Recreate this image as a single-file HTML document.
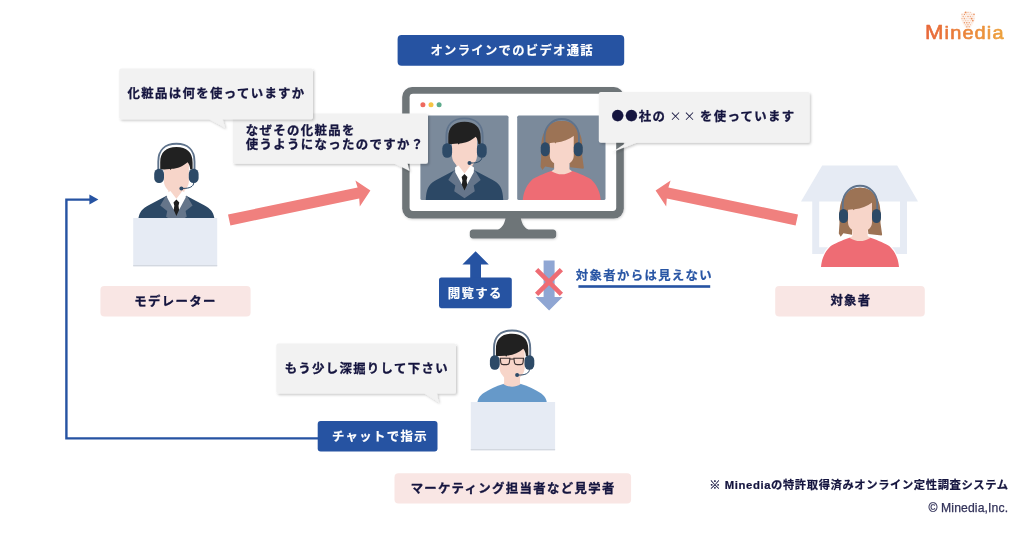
<!DOCTYPE html>
<html lang="ja">
<head>
<meta charset="utf-8">
<title>Minedia オンライン定性調査システム</title>
<style>
  html, body { margin: 0; padding: 0; background: #ffffff; }
  body { width: 1024px; height: 538px; overflow: hidden; }
  svg { display: block; will-change: transform; }
  text { font-family: "Liberation Sans", "Noto Sans CJK JP", sans-serif; font-weight: 700; font-size: 12.4px; letter-spacing: 1.35px; fill: #15153f; stroke: #15153f; stroke-width: 0.3px; stroke-linejoin: round; }
  .w { fill: #ffffff; stroke: #ffffff; stroke-width: 0.18px; }
  .b { fill: #2855a4; stroke: #2855a4; stroke-width: 0.2px; }
</style>
</head>
<body>
<svg width="1024" height="538" viewBox="0 0 1024 538">
  <defs>
    <filter id="sh" x="-10%" y="-20%" width="120%" height="150%">
      <feDropShadow dx="1.3" dy="1.5" stdDeviation="1.2" flood-color="#000000" flood-opacity="0.22"/>
    </filter>
    <filter id="sh2" x="-10%" y="-10%" width="120%" height="130%">
      <feDropShadow dx="0.6" dy="1" stdDeviation="1" flood-color="#000000" flood-opacity="0.18"/>
    </filter>
    <linearGradient id="lg" x1="0" y1="0" x2="1" y2="0">
      <stop offset="0" stop-color="#e8673a"/>
      <stop offset="1" stop-color="#eda23c"/>
    </linearGradient>
    <clipPath id="cl"><rect x="420.4" y="115.6" width="88.1" height="84.5" rx="1.6"/></clipPath>
    <clipPath id="cr"><rect x="517.2" y="115.6" width="88.3" height="84.5" rx="1.6"/></clipPath>
    <clipPath id="cm"><rect x="130" y="130" width="100" height="88"/></clipPath>
  </defs>
  <rect x="0" y="0" width="1024" height="538" fill="#ffffff"/>

  <!-- feedback line (chat instruction to moderator) -->
  <path d="M318,438.4 L66.4,438.4 L66.4,199.6 L90,199.6" fill="none" stroke="#2653a2" stroke-width="2.4"/>
  <path d="M89.4,194.6 L98.4,199.6 L89.4,204.6 Z" fill="#2653a2"/>

  <!-- title pill -->
  <rect x="397.6" y="35" width="226.6" height="30.8" rx="4" fill="#2653a2"/>
  <text class="w" x="430.5" y="55.1" style="font-size:12.3px;letter-spacing:1.32px">オンラインでのビデオ通話</text>

  <!-- monitor -->
  <g filter="url(#sh2)">
    <path d="M505.8,216 L520.6,216 C521.2,222.6 523.6,227.4 528.4,229.6 L553,229.6 C555,229.6 556.2,231 556.2,232.6 L556.2,235.6 C556.2,237.2 555,238.6 553,238.6 L473,238.6 C471,238.6 469.8,237.2 469.8,235.6 L469.8,232.6 C469.8,231 471,229.6 473,229.6 L498,229.6 C502.8,227.4 505.2,222.6 505.8,216 Z" fill="#6e7478"/>
    <rect x="402.2" y="87" width="221.6" height="131.6" rx="10" fill="#6e7478"/>
  </g>
  <rect x="409.6" y="93.8" width="206.6" height="117.2" rx="3.4" fill="#ffffff"/>
  <circle cx="422.9" cy="104.8" r="2.5" fill="#ee6a5f"/>
  <circle cx="431" cy="104.8" r="2.5" fill="#f6c444"/>
  <circle cx="439.1" cy="104.8" r="2.5" fill="#5dab8c"/>
  <rect x="420.4" y="115.6" width="88.1" height="84.5" rx="1.6" fill="#7b8a9b"/>
  <rect x="517.2" y="115.6" width="88.3" height="84.5" rx="1.6" fill="#7b8a9b"/>
  <g clip-path="url(#cl)">
  <g transform="translate(288.1,-25.4)">
    <path d="M137.6,227 C137.8,219 139,213.8 141.4,210.8 C143.2,208.4 145.6,206.8 148.6,205.2 L166.1,196 L186.7,196 L204.2,205.2 C207.2,206.8 209.6,208.4 211.4,210.8 C213.8,213.8 215,219 215.2,227 Z" fill="#2c4865"/>
    <path d="M166.1,195.6 L160.2,205.4 L167.2,210.9 L166.1,216.7 L176.4,223.6 L186.7,216.7 L185.6,210.9 L192.6,205.4 L186.7,195.6 L176.4,204 Z" fill="#65758a"/>
    <path d="M163.9,160 L188.9,160 L188.9,181.6 C188.7,184.6 187.8,186.6 186.4,188.2 L184.3,190.8 L184.3,196.6 L185.1,197.25 C182.3,199.1 179.3,200 176.4,200 C173.4,200 170.4,199.1 167.6,197.25 L168.4,196.6 L168.4,190.8 L166.4,188.2 C165,186.6 164.1,184.6 163.9,181.6 Z" fill="#f7d5c9"/>
    <path d="M166.9,193 L170.4,191 L176.4,198.8 L182.4,191 L185.9,193 L185.7,197.6 L179.4,209.2 L176.4,211.4 L173.4,209.2 L167.1,197.6 Z" fill="#ffffff"/>
    <path d="M176.4,199.4 L179.3,202.5 L178.5,205.8 L179.1,210.1 L176.4,215.9 L173.7,210.1 L174.3,205.8 L173.5,202.5 Z" fill="#1f1f1f"/>
    <path d="M160.2,169.4 L160.2,162.4 C160.2,152.4 166,147.1 176.4,147.1 C186.8,147.1 192.6,152.4 192.6,162.4 L192.6,169.4 L190.2,169.4 C190,166.4 189.2,164.2 187.6,162.2 C183.4,166 177.4,168.6 171.6,168.8 L170.4,170 L169.8,169 L163.9,169.4 Z" fill="#212121"/>
    <path d="M158.3,171 L158.3,161.4 C158.3,150 165,143.8 176.4,143.8 C187.8,143.8 194.5,150 194.5,161.4 L194.5,171" fill="none" stroke="#5f738c" stroke-width="1.9"/>
    <rect x="154.2" y="168.7" width="9.8" height="14.4" rx="4.6" ry="5.2" fill="#2d4a67"/>
    <rect x="188.8" y="168.7" width="9.8" height="14.4" rx="4.6" ry="5.2" fill="#2d4a67"/>
    <path d="M193.8,182.6 C193.6,186.6 189.6,188.6 182.6,188.4" fill="none" stroke="#2d4a67" stroke-width="1"/>
    <circle cx="181.4" cy="188.4" r="2" fill="#2d4a67"/>
  </g>
  </g>
  <g clip-path="url(#cr)">
  <g transform="translate(-298.25,-66.75)">
    <path d="M839.5,223 C839.3,214 839.5,208 840.6,204 C841.6,200.4 843,198 844.6,196 C847.6,190.6 852.6,187.7 860,187.7 C867.4,187.7 872.4,190.6 875.4,196 C877,198 878.4,200.4 879.4,204 C880.5,208 880.7,214 880.5,223 L882.1,234.4 L881.6,235.6 L868.4,234 L867.7,228 L852.4,228 L852,234.8 L843.4,233.2 L840.7,236.8 L838.8,233.6 Z" fill="#9c7355"/>
    <path d="M821,267 C821.4,263 822,260.4 822.9,258 C824.4,254 826.4,250 830.5,246.2 C834,244 842,240.4 849.4,237.8 L870.6,237.8 C878,240.4 886,244 889.5,246.2 C893.6,250 895.6,254 897.1,258 C898,260.4 898.6,263 899,267 Z" fill="#ee6c74"/>
    <path d="M848,202 L872,202 L872,222.7 C872,226 870,228.4 867.7,229.9 L867.7,236 L870.3,237.9 C867,240 863.5,241 860,241 C856.5,241 853,240 849.7,237.9 L852.4,236 L852.4,229.9 C850,228.4 848,226 848,222.7 Z" fill="#f7d5c9"/>
    <path d="M845,210 L845,203.4 C845,193.6 850.2,187.7 860,187.7 C869.8,187.7 875,193.6 875,203.4 L875,210 L873.6,210 C873.6,207 873.2,204.6 872.2,202.6 C867.4,206.4 861,208.8 854.6,209.2 L853.6,210.2 L852.8,209.2 L846.4,210 Z" fill="#9c7355"/>
    <path d="M842.8,211 L842.8,203.2 A17.2,17.5 0 0 1 877.2,203.2 L877.2,211" fill="none" stroke="#5f738c" stroke-width="1.9"/>
    <rect x="839" y="208.9" width="9" height="14.2" rx="4.4" ry="5.2" fill="#2d4a67"/>
    <rect x="872" y="208.9" width="9" height="14.2" rx="4.4" ry="5.2" fill="#2d4a67"/>
  </g>
  </g>

  <!-- moderator -->
  <g clip-path="url(#cm)">
  <g transform="translate(0,0)">
    <path d="M137.6,227 C137.8,219 139,213.8 141.4,210.8 C143.2,208.4 145.6,206.8 148.6,205.2 L166.1,196 L186.7,196 L204.2,205.2 C207.2,206.8 209.6,208.4 211.4,210.8 C213.8,213.8 215,219 215.2,227 Z" fill="#2c4865"/>
    <path d="M166.1,195.6 L160.2,205.4 L167.2,210.9 L166.1,216.7 L176.4,223.6 L186.7,216.7 L185.6,210.9 L192.6,205.4 L186.7,195.6 L176.4,204 Z" fill="#65758a"/>
    <path d="M163.9,160 L188.9,160 L188.9,181.6 C188.7,184.6 187.8,186.6 186.4,188.2 L184.3,190.8 L184.3,196.6 L185.1,197.25 C182.3,199.1 179.3,200 176.4,200 C173.4,200 170.4,199.1 167.6,197.25 L168.4,196.6 L168.4,190.8 L166.4,188.2 C165,186.6 164.1,184.6 163.9,181.6 Z" fill="#f7d5c9"/>
    <path d="M166.9,193 L170.4,191 L176.4,198.8 L182.4,191 L185.9,193 L185.7,197.6 L179.4,209.2 L176.4,211.4 L173.4,209.2 L167.1,197.6 Z" fill="#ffffff"/>
    <path d="M176.4,199.4 L179.3,202.5 L178.5,205.8 L179.1,210.1 L176.4,215.9 L173.7,210.1 L174.3,205.8 L173.5,202.5 Z" fill="#1f1f1f"/>
    <path d="M160.2,169.4 L160.2,162.4 C160.2,152.4 166,147.1 176.4,147.1 C186.8,147.1 192.6,152.4 192.6,162.4 L192.6,169.4 L190.2,169.4 C190,166.4 189.2,164.2 187.6,162.2 C183.4,166 177.4,168.6 171.6,168.8 L170.4,170 L169.8,169 L163.9,169.4 Z" fill="#212121"/>
    <path d="M158.3,171 L158.3,161.4 C158.3,150 165,143.8 176.4,143.8 C187.8,143.8 194.5,150 194.5,161.4 L194.5,171" fill="none" stroke="#5f738c" stroke-width="1.9"/>
    <rect x="154.2" y="168.7" width="9.8" height="14.4" rx="4.6" ry="5.2" fill="#2d4a67"/>
    <rect x="188.8" y="168.7" width="9.8" height="14.4" rx="4.6" ry="5.2" fill="#2d4a67"/>
    <path d="M193.8,182.6 C193.6,186.6 189.6,188.6 182.6,188.4" fill="none" stroke="#2d4a67" stroke-width="1"/>
    <circle cx="181.4" cy="188.4" r="2" fill="#2d4a67"/>
  </g>
  </g>
  <rect x="133.2" y="218" width="84" height="48" fill="#e6ebf4"/>
  <rect x="133.2" y="265" width="84" height="1.4" fill="#d3d8e0"/>

  <!-- respondent at home -->
  <path d="M822.2,165.6 L897.2,165.6 L918,201.6 L907,201.6 L907,254 L812.2,254 L812.2,201.6 L801,201.6 Z M819.2,201.6 L819.2,247.2 L900,247.2 L900,201.6 Z" fill="#e6ebf4" fill-rule="evenodd"/>
  
  <g transform="translate(0,0)">
    <path d="M839.5,223 C839.3,214 839.5,208 840.6,204 C841.6,200.4 843,198 844.6,196 C847.6,190.6 852.6,187.7 860,187.7 C867.4,187.7 872.4,190.6 875.4,196 C877,198 878.4,200.4 879.4,204 C880.5,208 880.7,214 880.5,223 L882.1,234.4 L881.6,235.6 L868.4,234 L867.7,228 L852.4,228 L852,234.8 L843.4,233.2 L840.7,236.8 L838.8,233.6 Z" fill="#9c7355"/>
    <path d="M821,267 C821.4,263 822,260.4 822.9,258 C824.4,254 826.4,250 830.5,246.2 C834,244 842,240.4 849.4,237.8 L870.6,237.8 C878,240.4 886,244 889.5,246.2 C893.6,250 895.6,254 897.1,258 C898,260.4 898.6,263 899,267 Z" fill="#ee6c74" stroke="#ffffff" stroke-width="2.6" paint-order="stroke"/>
    <path d="M848,202 L872,202 L872,222.7 C872,226 870,228.4 867.7,229.9 L867.7,236 L870.3,237.9 C867,240 863.5,241 860,241 C856.5,241 853,240 849.7,237.9 L852.4,236 L852.4,229.9 C850,228.4 848,226 848,222.7 Z" fill="#f7d5c9"/>
    <path d="M845,210 L845,203.4 C845,193.6 850.2,187.7 860,187.7 C869.8,187.7 875,193.6 875,203.4 L875,210 L873.6,210 C873.6,207 873.2,204.6 872.2,202.6 C867.4,206.4 861,208.8 854.6,209.2 L853.6,210.2 L852.8,209.2 L846.4,210 Z" fill="#9c7355"/>
    <path d="M842.8,211 L842.8,203.2 A17.2,17.5 0 0 1 877.2,203.2 L877.2,211" fill="none" stroke="#5f738c" stroke-width="1.9"/>
    <rect x="839" y="208.9" width="9" height="14.2" rx="4.4" ry="5.2" fill="#2d4a67"/>
    <rect x="872" y="208.9" width="9" height="14.2" rx="4.4" ry="5.2" fill="#2d4a67"/>
  </g>

  <!-- observer -->
  
  <g transform="translate(335.7,186.65)">
    <path d="M141.6,216.4 C142.1,211.9 143.9,209.2 148,206.3 C153.3,202.8 160.3,199.4 167.55,197.25 L185.25,197.25 C192.5,199.4 199.5,202.8 204.8,206.3 C208.9,209.2 210.7,211.9 211.2,216.4 Z" fill="#6699c9"/>
    <path d="M163.9,160 L188.9,160 L188.9,181.6 C188.7,184.6 187.8,186.6 186.4,188.2 L184.3,190.8 L184.3,196.6 L185.1,197.25 C182.3,199.1 179.3,200 176.4,200 C173.4,200 170.4,199.1 167.6,197.25 L168.4,196.6 L168.4,190.8 L166.4,188.2 C165,186.6 164.1,184.6 163.9,181.6 Z" fill="#f7d5c9"/>
    <path d="M160.2,169.4 L160.2,162.4 C160.2,152.4 166,147.1 176.4,147.1 C186.8,147.1 192.6,152.4 192.6,162.4 L192.6,169.4 L190.2,169.4 C190,166.4 189.2,164.2 187.6,162.2 C183.4,166 177.4,168.6 171.6,168.8 L170.4,170 L169.8,169 L163.9,169.4 Z" fill="#212121"/>
    <path d="M158.3,171 L158.3,161.4 C158.3,150 165,143.8 176.4,143.8 C187.8,143.8 194.5,150 194.5,161.4 L194.5,171" fill="none" stroke="#5f738c" stroke-width="1.9"/>
    <rect x="154.2" y="168.7" width="9.8" height="14.4" rx="4.6" ry="5.2" fill="#2d4a67"/>
    <rect x="188.8" y="168.7" width="9.8" height="14.4" rx="4.6" ry="5.2" fill="#2d4a67"/>
    <path d="M193.8,182.6 C193.6,186.6 189.6,188.6 182.6,188.4" fill="none" stroke="#2d4a67" stroke-width="1"/>
    <circle cx="181.4" cy="188.4" r="2" fill="#2d4a67"/>
    <g fill="none" stroke="#3a3030" stroke-width="1.1">
      <path d="M164.6,171.6 L174.2,171.6 L173.6,176.2 C173.2,177.6 172.4,178 171,178 L167.6,178 C166.2,178 165.4,177.6 165.1,176.2 Z"/>
      <path d="M178.2,171.6 L187.8,171.6 L187.3,176.2 C187,177.6 186.2,178 184.8,178 L181.4,178 C180,178 179.2,177.6 178.8,176.2 Z"/>
      <path d="M174.2,172.4 L178.2,172.4"/>
    </g>
  </g>
  <rect x="470.8" y="402" width="84.3" height="48" fill="#e6ebf4"/>
  <rect x="470.8" y="449" width="84.3" height="1.4" fill="#d3d8e0"/>

  <!-- red arrows -->
  <path d="M228,214.5 L357.6,187.4 L355.4,180.4 L370.4,190.6 L359.8,206.4 L359.2,198.4 L230.4,225.4 Z" fill="#f0807e"/>
  <path d="M798,214.5 L668.4,187.4 L670.6,180.4 L655.6,190.6 L666.2,206.4 L666.8,198.4 L795.6,225.4 Z" fill="#f0807e"/>

  <!-- view arrow + label -->
  <path d="M475.6,251.2 L488.8,264.6 L481,264.6 L481,279 L470.2,279 L470.2,264.6 L462.4,264.6 Z" fill="#2653a2"/>
  <rect x="439" y="277.4" width="72.8" height="30.8" rx="2.4" fill="#2653a2"/>
  <text class="w" x="475.2" y="298.2" text-anchor="middle">閲覧する</text>

  <!-- blocked arrow -->
  <path d="M543.6,260.4 L554.6,260.4 L554.6,297 L562.6,297 L549.1,310.4 L535.6,297 L543.6,297 Z" fill="#8fa6d3"/>
  <path d="M536.6,269.6 L561.4,294.4 M561.4,269.6 L536.6,294.4" stroke="#ee6c74" stroke-width="4.6" fill="none"/>
  <text class="b" x="644.4" y="279.6" text-anchor="middle">対象者からは見えない</text>
  <rect x="578.4" y="285.2" width="131.8" height="2.6" fill="#2653a2"/>

  <!-- speech bubbles -->
  
  <g filter="url(#sh)">
    <rect x="232.8" y="113.6" width="195.2" height="50.2" rx="2" fill="#f2f2f2"/>
    <path d="M393.6,163 L409.6,171 L407.4,163 Z" fill="#f2f2f2"/>
  </g>
  <text x="245.8" y="134.5">なぜその化粧品を</text>
  <text x="245.8" y="148.8">使うようになったのですか？</text>
  
  <g filter="url(#sh)">
    <rect x="119.2" y="68.4" width="193.8" height="50.8" rx="2" fill="#f2f2f2"/>
    <path d="M208,118.6 L225,127.8 L222.4,118.6 Z" fill="#f2f2f2"/>
  </g>
  <text x="127.6" y="97.9">化粧品は何を使っていますか</text>
  
  <g filter="url(#sh)">
    <rect x="598.8" y="92" width="210.8" height="50.8" rx="2" fill="#f2f2f2"/>
    <path d="M638,142 L611.5,152.6 L627.5,142 Z" fill="#f2f2f2"/>
  </g>
  <text x="611.4" y="120.6" style="font-family:'Noto Sans CJK JP','Liberation Sans',sans-serif">●●社の<tspan x="669.6" style="font-weight:400;stroke:none;font-size:12px;letter-spacing:1.9px">××</tspan><tspan x="700">を使っています</tspan></text>
  
  <g filter="url(#sh)">
    <rect x="276.4" y="343.4" width="179.6" height="50.2" rx="2" fill="#f2f2f2"/>
    <path d="M424,393 L438.6,402.2 L436.8,393 Z" fill="#f2f2f2"/>
  </g>
  <text x="284.8" y="372.6">もう少し深掘りして下さい</text>

  <!-- chat button -->
  <rect x="317.7" y="421.1" width="119.8" height="30.5" rx="3" fill="#2653a2"/>
  <text class="w" x="380" y="441" text-anchor="middle">チャットで指示</text>

  <!-- role labels -->
  <rect x="100.4" y="286" width="150.2" height="30.4" rx="4" fill="#f9e6e4"/>
  <text x="175.5" y="305.6" text-anchor="middle">モデレーター</text>
  <rect x="775.2" y="286" width="149.6" height="30.4" rx="4" fill="#f9e6e4"/>
  <text x="851" y="305.4" text-anchor="middle">対象者</text>
  <rect x="394.5" y="473.2" width="236.6" height="30.4" rx="4" fill="#f9e6e4"/>
  <text x="513.2" y="492.8" text-anchor="middle">マーケティング担当者など見学者</text>

  <!-- footnotes -->
  <text x="1008.7" y="489.1" text-anchor="end" style="font-size:11.3px;letter-spacing:0.6px;stroke-width:0.22px">※ Minediaの特許取得済みオンライン定性調査システム</text>
  <text x="1008.2" y="511.9" text-anchor="end" style="font-size:12.2px;letter-spacing:0.12px;font-weight:400;fill:#33335a;stroke:#33335a;stroke-width:0.25px">© Minedia,Inc.</text>

  <!-- logo -->
  <g>
    <path d="M968,11.4 C972.4,11.4 975.3,14 975.3,17.2 C975.3,21 972.6,24.6 970.5,27.8 L965.5,27.8 C963.4,24.6 960.7,21 960.7,17.2 C960.7,14 963.6,11.4 968,11.4 Z" fill="#f3b48e" opacity="0.16"/>
    <circle cx="965.6" cy="12.4" r="0.95" fill="#e57a3e" opacity="0.85"/><circle cx="968.0" cy="12.4" r="0.7" fill="#e57a3e" opacity="0.45"/><circle cx="970.4" cy="12.4" r="0.7" fill="#e57a3e" opacity="0.3"/><circle cx="962.0" cy="14.4" r="0.8" fill="#ee9a6a" opacity="0.45"/>
    <circle cx="964.4" cy="14.4" r="0.6" fill="#e57a3e" opacity="0.85"/><circle cx="966.8" cy="14.4" r="0.7" fill="#ee9a6a" opacity="0.3"/><circle cx="969.2" cy="14.4" r="0.6" fill="#e9824a" opacity="0.3"/><circle cx="971.6" cy="14.4" r="0.7" fill="#e57a3e" opacity="0.3"/>
    <circle cx="974.0" cy="14.4" r="0.8" fill="#e9824a" opacity="0.85"/><circle cx="963.2" cy="16.5" r="0.7" fill="#e57a3e" opacity="0.6"/><circle cx="965.6" cy="16.5" r="0.6" fill="#e57a3e" opacity="0.3"/><circle cx="968.0" cy="16.5" r="0.8" fill="#ee9a6a" opacity="0.85"/>
    <circle cx="970.4" cy="16.5" r="0.8" fill="#e9824a" opacity="0.6"/><circle cx="972.8" cy="16.5" r="0.8" fill="#ee9a6a" opacity="0.3"/><circle cx="962.0" cy="18.6" r="0.6" fill="#ee9a6a" opacity="0.85"/><circle cx="964.4" cy="18.6" r="0.8" fill="#ee9a6a" opacity="0.85"/>
    <circle cx="966.8" cy="18.6" r="0.6" fill="#e9824a" opacity="0.3"/><circle cx="969.2" cy="18.6" r="0.7" fill="#e57a3e" opacity="0.3"/><circle cx="971.6" cy="18.6" r="0.95" fill="#e57a3e" opacity="0.85"/><circle cx="974.0" cy="18.6" r="0.6" fill="#f2b08a" opacity="0.45"/>
    <circle cx="963.2" cy="20.6" r="0.8" fill="#f2b08a" opacity="0.3"/><circle cx="965.6" cy="20.6" r="0.8" fill="#e57a3e" opacity="0.3"/><circle cx="968.0" cy="20.6" r="0.6" fill="#e9824a" opacity="0.45"/><circle cx="970.4" cy="20.6" r="0.6" fill="#ee9a6a" opacity="0.3"/>
    <circle cx="972.8" cy="20.6" r="0.95" fill="#e9824a" opacity="0.85"/><circle cx="964.4" cy="22.7" r="0.7" fill="#e9824a" opacity="0.85"/><circle cx="966.8" cy="22.7" r="0.7" fill="#e57a3e" opacity="0.85"/><circle cx="969.2" cy="22.7" r="0.6" fill="#e57a3e" opacity="0.85"/>
    <circle cx="971.6" cy="22.7" r="0.7" fill="#f2b08a" opacity="0.3"/><circle cx="965.6" cy="24.7" r="0.8" fill="#e9824a" opacity="0.3"/><circle cx="968.0" cy="24.7" r="0.7" fill="#ee9a6a" opacity="0.85"/><circle cx="970.4" cy="24.7" r="0.6" fill="#e9824a" opacity="0.45"/>
    <circle cx="966.8" cy="26.8" r="0.95" fill="#ee9a6a" opacity="0.6"/><circle cx="969.2" cy="26.8" r="0.8" fill="#e57a3e" opacity="0.6"/>
  </g>
  <text transform="translate(924.9,39.2) scale(1.13,1)" style="font-weight:400;letter-spacing:1.0px;fill:url(#lg);stroke:url(#lg);stroke-width:0.6px;stroke-linejoin:round"><tspan style="font-size:19.7px">M</tspan><tspan style="font-size:17.7px">inedia</tspan></text>
</svg>
</body>
</html>
